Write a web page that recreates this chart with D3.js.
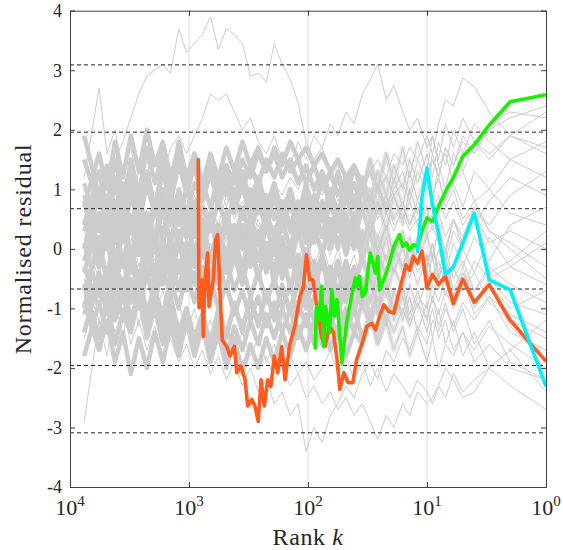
<!DOCTYPE html>
<html>
<head>
<meta charset="utf-8">
<script src="https://cdn.jsdelivr.net/npm/d3@7"></script>
<style>
  body { margin: 0; background: #fff; }
  text { font-family: "Liberation Serif", "DejaVu Serif", serif; fill: #262626; }
</style>
</head>
<body>
<div id="chart"></div>
<script>
// ranks shared by the grey runs (left to right)
var grayRanks = [7600,5700,4890,4190,3590,3080,2640,2260,1940,1660,1430,1220,1050,
                 900,770,660,566,485,416,356,305,262,224,192,165,141,
                 121,104,89,76,65,56,48,41,35,30,26,22,19,
                 16,14,12,10,9,8,7,6,5,4,3,2,1];

// grey background runs, one row per run (first nine are the outlying ones)
var grayRuns = [
  [0.6,1.2,0.9,1.5,1.8,2.2,2.6,2.9,3.0,3.1,2.95,3.7,3.3, 3.45,3.6,3.9,3.35,3.7,3.6,3.45,2.9,2.95,2.8,3.45,3.1,2.85, 2.45,1.8,1.5,1.7,1.2,1.4,0.9,1.1,0.7,0.9,0.5,0.8,0.4, 0.6,0.3,0.5,0.2,0.4,0.1,-0.2,0.3,0.0,-0.4,0.2,-0.3,0.1],
  [-0.3,0.4,0.9,0.5,1.1,0.8,1.3,1.0,1.5,1.2,1.7,1.9,1.6, 1.9,2.2,2.6,2.5,2.6,2.3,2.0,2.2,1.8,1.6,1.9,1.5,1.3, 1.1,1.4,0.9,1.2,0.8,1.0,0.6,0.9,1.2,0.8,1.1,0.7,1.0, 1.3,0.9,1.5,1.1,1.6,1.2,1.7,1.4,1.9,1.6,2.1,2.3,2.2],
  [0.2,-0.5,0.3,-0.2,0.5,0.1,0.7,0.3,0.8,0.5,1.0,0.6,0.9, 0.4,0.8,0.5,1.1,0.7,1.2,0.9,1.3,1.0,1.5,1.2,1.6,1.4, 1.8,1.5,1.9,1.7,2.1,1.9,2.3,2.1,2.6,2.84,3.1,2.5,2.75, 2.3,2.0,2.2,1.7,1.9,1.4,1.6,1.1,1.3,0.8,1.0,0.6,0.4],
  [-0.8,0.1,-0.4,0.4,-0.1,0.3,-0.3,0.2,-0.2,0.4,0.0,0.5,0.1, 0.6,0.2,0.7,0.4,0.9,0.5,0.8,0.6,1.0,0.7,1.1,0.9,1.2, 1.0,1.3,1.1,0.9,1.2,0.8,1.1,1.4,1.0,1.3,1.5,1.2,1.6, 1.4,1.7,1.5,1.9,1.6,2.1,2.5,2.4,2.87,2.72,2.3,1.9,1.7],
  [-0.5,-1.2,-0.8,-1.4,-1.0,-1.6,-1.2,-1.7,-1.3,-1.8,-1.5,-1.9,-1.6, -2.0,-1.7,-2.1,-1.8,-2.2,-1.9,-2.3,-2.0,-2.4,-2.2,-2.6,-2.4,-2.8, -2.6,-3.4,-3.0,-3.25,-2.8,-2.6,-2.3,-2.5,-2.1,-1.9,-2.2,-1.7,-1.9, -1.5,-1.7,-1.3,-1.6,-1.2,-1.4,-1.0,-1.3,-0.9,-1.2,-0.8,-1.1,-1.4],
  [0.3,-0.4,0.1,-0.6,-0.2,-0.8,-0.4,-1.0,-0.7,-1.2,-0.9,-1.3,-1.1, -1.5,-1.2,-1.6,-1.4,-1.8,-1.5,-1.9,-1.7,-2.0,-1.8,-2.2,-2.0,-2.3, -2.1,-2.5,-2.3,-2.6,-2.4,-2.7,-2.5,-2.8,-2.6,-2.9,-3.2,-2.8,-3.0, -2.6,-2.8,-2.4,-2.6,-2.5,-2.3,-2.5,-2.1,-2.4,-2.2,-2.0,-2.3,-2.7],
  [-1.5,-0.6,-1.1,-0.4,-0.9,-0.3,-0.8,-0.5,-1.1,-0.7,-1.2,-0.9,-1.4, -1.0,-1.5,-1.2,-1.6,-1.3,-1.7,-1.4,-1.8,-1.5,-1.9,-1.6,-2.0,-1.8, -2.1,-1.9,-2.2,-2.0,-1.7,-2.1,-1.8,-2.2,-1.9,-2.3,-2.0,-2.4,-2.1, -2.3,-2.5,-2.2,-2.4,-2.6,-2.3,-2.0,-2.2,-2.5,-2.4,-2.0,-1.7,-1.2],
  [-2.9,-1.2,-1.8,-0.9,-1.5,-0.7,-1.3,-0.5,-1.0,-0.3,-0.8,-0.2,-0.6, -0.1,-0.5,0.1,-0.3,0.2,-0.2,0.3,0.0,0.4,0.1,-0.2,0.3,0.0, 0.4,0.1,0.5,0.2,-0.1,0.3,0.0,0.4,0.1,0.5,0.2,0.6,0.3, 0.7,0.4,0.8,0.5,0.9,1.2,0.8,1.1,0.7,1.3,1.0,1.5,1.8],
  [1.2,2.7,1.6,2.0,1.3,1.7,1.0,1.5,0.8,1.2,0.6,1.0,0.5, 0.9,0.4,0.8,0.3,0.7,0.2,0.6,0.1,0.5,0.0,0.4,-0.1,0.3, -0.2,0.2,-0.3,0.1,-0.4,0.0,-0.5,-0.1,-0.6,-0.2,-0.5,-0.1,-0.4, 0.0,-0.3,0.2,-0.2,0.1,-0.5,-0.2,-0.8,-0.4,-1.0,-0.6,-1.3,-1.9],
  [0.8,-0.2,0.5,-0.4,0.3,-0.3,0.6,0.0,0.7,0.2,0.9,0.4,1.0, 0.6,1.1,0.7,1.2,0.9,1.3,1.0,1.4,1.1,1.5,1.2,1.6,1.3, 1.5,1.1,1.4,1.0,1.3,0.9,1.2,0.8,1.1,0.7,1.0,0.6,0.9, 0.5,0.8,0.4,0.7,0.3,0.6,0.2,0.5,0.1,0.4,0.8,1.2,0.9],
  [-0.2,0.6,0.1,0.8,0.3,1.0,0.5,1.1,0.6,0.9,0.4,0.8,0.3, 0.7,0.2,0.6,0.1,0.5,0.0,0.4,-0.1,0.3,-0.2,0.2,-0.3,0.1, -0.4,0.0,-0.5,-0.1,-0.6,-0.2,-0.7,-0.3,-0.8,-0.4,-0.9,-0.5,-1.0, -0.6,-1.1,-0.7,-1.2,-0.8,-1.3,-0.9,-1.4,-1.0,-1.6,-1.2,-1.9,-2.2],
  [1.5,0.7,1.2,0.4,1.0,0.3,0.9,0.2,0.8,0.1,0.7,0.0,0.6, -0.1,0.5,-0.2,0.4,-0.3,0.3,-0.4,0.2,-0.5,0.1,-0.6,0.0,-0.7, -0.1,-0.8,-0.2,-0.9,-0.3,-1.0,-0.4,-1.1,-0.5,-1.2,-0.6,-1.3,-0.7, -1.2,-0.8,-1.4,-0.9,-1.5,-1.0,-1.6,-1.2,-1.8,-1.4,-2.0,-1.7,-2.4],
  [-1.0,0.2,-0.6,0.4,-0.3,0.5,-0.1,0.6,0.2,0.8,0.4,1.0,0.6, 1.1,0.8,1.3,1.0,1.4,1.1,1.5,1.2,1.6,1.3,1.7,1.4,1.8, 1.5,1.7,1.4,1.6,1.3,1.5,1.2,1.4,1.1,1.3,1.0,1.2,0.9, 1.1,0.8,1.3,1.0,1.5,1.2,1.7,1.4,1.8,1.6,2.0,2.2,2.4],
  [0.4,1.3,0.7,1.5,0.9,1.4,0.8,1.2,0.6,1.0,0.4,0.9,0.3, 0.8,0.2,0.6,0.0,0.5,-0.1,0.4,-0.2,0.2,-0.3,0.1,-0.4,0.0, -0.5,-0.1,-0.6,-0.2,-0.7,-0.3,-0.8,-0.4,-0.9,-0.5,-1.0,-0.6,-1.1, -0.7,-1.2,-0.8,-1.0,-0.6,-0.9,-0.5,-0.8,-0.4,-0.7,-0.3,-0.6,-0.9],
  [-0.6,-1.5,-0.9,-1.6,-1.1,-1.4,-0.8,-1.3,-0.7,-1.1,-0.5,-1.0,-0.4, -0.9,-0.3,-0.8,-0.2,-0.7,-0.1,-0.6,0.0,-0.5,0.1,-0.4,0.2,-0.3, 0.3,-0.2,0.4,-0.1,0.5,0.0,0.6,0.1,0.7,0.2,0.8,0.3,0.9, 0.4,1.0,0.6,1.2,0.8,1.4,1.0,1.6,1.3,1.8,1.5,1.9,1.6],
  [0.0,0.9,0.4,1.2,0.6,1.5,0.9,1.7,1.1,1.6,1.0,1.8,1.2, 1.6,1.1,1.5,1.0,1.4,0.9,1.3,0.8,1.2,0.7,1.1,0.6,1.0, 0.5,0.9,0.4,0.8,0.3,0.7,0.2,0.6,0.1,0.5,0.0,0.4,-0.1, 0.3,-0.2,0.2,-0.3,0.1,-0.4,0.0,-0.5,-0.2,-0.7,-0.4,-0.2,0.3],
  [-1.8,-0.9,-1.4,-0.6,-1.2,-0.5,-1.0,-0.4,-0.9,-0.3,-0.8,-0.2,-0.7, -0.4,-0.9,-0.5,-1.0,-0.6,-1.1,-0.7,-1.2,-0.8,-1.3,-0.9,-1.4,-1.0, -1.5,-1.1,-1.6,-1.2,-1.7,-1.3,-1.8,-1.4,-1.6,-1.2,-1.5,-1.1,-1.4, -1.0,-1.3,-0.9,-1.2,-0.8,-1.1,-0.7,-1.0,-0.6,-0.9,-0.5,-0.3,-0.6],
  [0.9,0.0,0.6,-0.2,0.4,-0.4,0.2,-0.5,0.1,-0.6,0.0,-0.7,-0.1, -0.6,0.0,-0.5,0.1,-0.4,0.2,-0.3,0.3,-0.2,0.4,-0.1,0.5,0.0, 0.6,0.1,0.7,0.2,0.8,0.3,0.9,0.4,1.0,0.5,1.1,0.6,1.2, 0.7,1.3,0.8,1.4,0.9,1.2,0.7,1.0,0.5,0.8,0.3,0.0,-0.5],
  [0.5,-0.3,0.2,-0.6,-0.1,-0.9,-0.4,-1.1,-0.6,-1.3,-0.8,-1.4,-1.0, -1.5,-1.1,-1.6,-1.2,-1.4,-1.0,-1.3,-0.9,-1.2,-0.8,-1.1,-0.7,-1.0, -0.6,-0.9,-0.5,-0.8,-0.4,-0.7,-0.3,-0.6,-0.2,-0.5,-0.1,-0.4,0.0, -0.3,0.1,-0.2,0.2,-0.1,0.3,0.0,0.5,0.2,0.7,0.4,0.9,1.3],
  [-0.4,0.5,0.0,0.7,0.2,0.9,0.4,1.1,0.6,1.3,0.8,1.4,1.0, 1.5,1.1,1.6,1.2,1.7,1.3,1.8,1.4,1.7,1.3,1.6,1.2,1.5, 1.1,1.4,1.0,1.3,0.9,1.2,0.8,1.1,0.7,1.0,0.6,0.9,0.5, 0.8,0.4,0.7,0.3,0.6,0.9,0.5,0.8,0.4,0.7,0.3,0.1,-0.3],
  [-1.1,-0.4,-0.9,-0.2,-0.7,0.0,-0.5,0.1,-0.4,0.2,-0.3,0.3,-0.2, 0.4,-0.1,0.5,0.0,0.6,0.1,0.7,0.2,0.8,0.3,0.9,0.4,1.0, 0.5,1.1,0.6,1.2,0.7,1.3,0.8,1.4,0.9,1.5,1.0,1.6,1.1, 1.7,1.2,1.8,1.3,1.9,1.5,2.1,1.7,2.2,1.8,1.6,1.9,2.3],
  [0.1,-0.8,-0.3,-1.0,-0.5,-1.2,-0.7,-1.3,-0.8,-1.4,-0.9,-1.5,-1.0, -1.6,-1.1,-1.7,-1.2,-1.8,-1.3,-1.7,-1.2,-1.6,-1.1,-1.5,-1.0,-1.4, -0.9,-1.3,-0.8,-1.2,-0.7,-1.1,-0.6,-1.0,-0.5,-0.9,-0.4,-0.8,-0.3, -0.7,-0.2,-0.6,-0.1,-0.5,0.0,-0.4,0.1,-0.3,0.2,-0.2,0.4,0.7],
  [1.9,0.9,1.4,0.6,1.1,0.4,0.9,0.3,0.8,0.2,0.7,0.1,0.6, 0.2,0.7,0.3,0.8,0.4,0.9,0.5,1.0,0.6,0.9,0.5,0.8,0.4, 0.7,0.3,0.6,0.2,0.5,0.1,0.4,0.0,0.3,-0.1,0.2,-0.2,0.1, -0.3,0.0,-0.4,-0.1,-0.5,-0.2,-0.6,-0.3,-0.7,-0.4,-0.9,-1.2,-1.5],
  [-0.9,-1.7,-1.2,-1.9,-1.4,-2.1,-1.5,-2.0,-1.4,-1.9,-1.3,-1.8,-1.2, -1.7,-1.1,-1.6,-1.0,-1.5,-0.9,-1.4,-0.8,-1.3,-0.7,-1.2,-0.6,-1.1, -0.5,-1.0,-0.4,-0.9,-0.3,-0.8,-0.2,-0.7,-0.1,-0.6,0.0,-0.5,0.1, -0.4,0.2,-0.3,0.3,-0.2,0.4,-0.1,0.5,0.0,0.6,0.1,0.3,0.0],
  [0.7,1.6,1.0,1.8,1.2,1.9,1.3,2.0,1.4,1.8,1.2,1.7,1.1, 1.6,1.0,1.5,0.9,1.4,0.8,1.3,0.7,1.2,0.6,1.1,0.5,1.0, 0.4,0.9,0.3,0.8,0.2,0.7,0.1,0.6,0.0,0.5,-0.1,0.4,-0.2, 0.3,-0.3,0.2,-0.4,0.1,-0.5,-0.1,-0.7,-0.3,-0.9,-0.6,-1.0,-0.7],
  [-0.3,-1.0,-0.5,-1.2,-0.7,-1.3,-0.8,-1.5,-1.0,-1.6,-1.1,-1.7,-1.2, -1.8,-1.3,-1.9,-1.4,-2.0,-1.5,-2.1,-1.6,-2.0,-1.5,-1.9,-1.4,-1.8, -1.3,-1.7,-1.2,-1.6,-1.1,-1.5,-1.0,-1.4,-0.9,-1.3,-0.8,-1.2,-0.7, -1.1,-0.6,-1.0,-0.5,-0.9,-0.4,-0.8,-0.3,-0.7,-0.2,-0.5,-0.9,-1.1],
  [0.3,1.0,0.4,1.1,0.5,1.2,0.6,1.3,0.7,1.4,0.8,1.5,0.9, 1.4,0.8,1.3,0.7,1.2,0.6,1.1,0.5,1.0,0.4,0.9,0.3,0.8, 0.2,0.7,0.1,0.6,0.0,0.5,-0.1,0.4,-0.2,0.3,-0.3,0.2,-0.4, 0.1,-0.5,0.0,-0.6,-0.1,-0.7,-0.3,-0.9,-0.5,-1.1,-0.8,-1.4,-1.7],
  [-0.7,0.1,-0.5,0.3,-0.3,0.5,-0.1,0.6,0.0,0.7,0.1,0.8,0.2, 0.6,0.0,0.5,-0.1,0.4,-0.2,0.3,-0.3,0.2,-0.4,0.1,-0.5,0.0, -0.6,-0.1,-0.7,-0.2,-0.8,-0.3,-0.9,-0.4,-1.0,-0.5,-1.1,-0.6,-1.2, -0.8,-1.3,-0.9,-1.4,-1.0,-1.5,-1.2,-1.7,-1.4,-1.9,-1.6,-2.0,-2.2],
  [1.1,0.3,0.8,0.1,0.6,-0.1,0.4,-0.2,0.3,-0.3,0.2,-0.4,0.1, -0.3,0.2,-0.2,0.3,-0.1,0.4,0.0,0.5,0.1,0.6,0.2,0.7,0.3, 0.8,0.4,0.9,0.5,1.0,0.6,1.1,0.7,1.2,0.8,1.3,0.9,1.4, 1.0,1.5,1.1,1.6,1.2,1.8,1.4,2.0,1.6,2.1,1.8,1.5,1.2],
  [-1.4,-0.5,-1.1,-0.3,-0.9,-0.2,-0.7,-0.1,-0.6,0.0,-0.5,0.1,-0.4, 0.0,-0.5,-0.1,-0.6,-0.2,-0.7,-0.3,-0.8,-0.4,-0.9,-0.5,-1.0,-0.6, -1.1,-0.7,-1.2,-0.8,-1.3,-0.9,-1.4,-1.0,-1.5,-1.1,-1.6,-1.2,-1.7, -1.3,-1.8,-1.4,-1.9,-1.5,-2.0,-1.6,-1.8,-1.4,-1.7,-1.3,-1.6,-2.0]
];

// highlighted runs
var orangeRanks = [836,824,782,758,734,697,679,653,625,597,574,549,525,482,452,416,397,365,338,321,297,279,262,248,233,218,205,192,180,166,156,142,129,117,109,103,97,91,85,77,72,66,61,57,54,50,46,42,39,35,32,29,27,25,23,21,19,17,15,14,13,12,11,10,9,8,7,6,5,4,3,2,1];
var orangeVals  = [1.52,-0.99,-0.52,-1.47,-0.52,-0.07,-0.97,-0.74,-0.52,0.15,0.24,-0.74,-1.53,-1.64,-1.8,-1.64,-2.08,-1.97,-2.2,-2.64,-2.53,-2.64,-2.9,-2.2,-2.64,-2.2,-2.31,-1.8,-2.08,-1.64,-2.2,-1.6,-1.3,-0.8,-0.63,-0.1,-0.52,-0.52,-0.91,-1.47,-1.64,-1.3,-1.41,-1.86,-2.36,-2.08,-2.25,-2.25,-1.86,-1.58,-1.3,-1.25,-1.36,-1.13,-0.94,-1.05,-1.08,-0.69,-0.27,-0.36,-0.13,-0.24,-0.04,-0.66,-0.43,-0.6,-0.46,-0.92,-0.51,-0.9,-0.6,-1.2,-1.89];

var greenRanks = [87,85,80,77,74,71,66,63,60,57,52,47,43,40,39,37,35,33,30,27,26,25,22,20,19,17,16,15,14,13,12,11,10,9,8,7,6,5,4,3,2,1];
var greenVals  = [-1.69,-0.97,-1.19,-0.63,-1.64,-0.97,-1.41,-0.69,-1.13,-0.85,-1.92,-1.19,-0.8,-0.49,-0.63,-0.46,-0.8,-0.74,-0.07,-0.41,-0.13,-0.69,-0.41,-0.13,0.04,0.24,0.04,0.1,-0.02,0.07,0.04,0.3,0.52,0.46,0.71,0.96,1.2,1.55,1.75,2.08,2.47,2.59];

var cyanRanks = [12,11,10,9,8,7,6,5,4,3,2,1];
var cyanVals  = [-0.07,0.88,1.35,0.75,0.25,-0.43,-0.3,0.1,0.6,-0.52,-0.69,-2.31];

// reference levels (dashed)
var refLevels = [3.09,1.96,0.6745,-0.6745,-1.96,-3.09];

var xTicks = [1e4,1e3,1e2,1e1,1e0];
var yTicks = [-4,-3,-2,-1,0,1,2,3,4];

var W = 563, H = 550;
var plotL = 70, plotR = 546, plotT = 10.7, plotB = 487;

var svg = d3.select("#chart").append("svg")
    .attr("width", W).attr("height", H);

var x = d3.scaleLog().domain([1e4, 1]).range([plotL, plotR]);
var y = d3.scaleLinear().domain([-4, 4]).range([plotB, plotT]);

var line = d3.line()
    .x(function(d) { return x(d[0]); })
    .y(function(d) { return y(d[1]); });

// the long noisy stretch of the core runs reads as a dense band,
// fading out towards the low ranks where the runs are short
var defs = svg.append("defs");
var grad = defs.append("linearGradient").attr("id", "denseFade")
    .attr("gradientUnits", "userSpaceOnUse")
    .attr("x1", x(40)).attr("x2", x(9)).attr("y1", 0).attr("y2", 0);
grad.append("stop").attr("offset", 0).attr("stop-color", "#fff");
grad.append("stop").attr("offset", 1).attr("stop-color", "#000");
defs.append("mask").attr("id", "denseMask")
    .attr("maskUnits", "userSpaceOnUse")
    .attr("x", 0).attr("y", 0).attr("width", W).attr("height", H)
  .append("rect")
    .attr("x", 0).attr("y", 0).attr("width", W).attr("height", H)
    .attr("fill", "url(#denseFade)");

// vertical grid
svg.append("g").selectAll("line")
    .data(xTicks.slice(1, 4))
    .enter().append("line")
    .attr("x1", function(d) { return x(d); }).attr("x2", function(d) { return x(d); })
    .attr("y1", plotT).attr("y2", plotB)
    .attr("stroke", "#dcdcdc").attr("stroke-width", 1);

// grey runs: dense band part (core runs only)
svg.append("g").attr("mask", "url(#denseMask)")
  .selectAll("path")
    .data(grayRuns.slice(9))
    .enter().append("path")
    .attr("d", function(r) { return line(d3.zip(grayRanks, r)); })
    .attr("fill", "none")
    .attr("stroke", "#cccccc")
    .attr("stroke-width", 4.5)
    .attr("stroke-linejoin", "round");

// grey runs: thin lines
svg.append("g").selectAll("path")
    .data(grayRuns)
    .enter().append("path")
    .attr("d", function(r) { return line(d3.zip(grayRanks, r)); })
    .attr("fill", "none")
    .attr("stroke", "#cccccc")
    .attr("stroke-width", 1);

// dashed levels
svg.append("g").selectAll("line")
    .data(refLevels)
    .enter().append("line")
    .attr("x1", plotL).attr("x2", plotR)
    .attr("y1", function(d) { return y(d); }).attr("y2", function(d) { return y(d); })
    .attr("stroke", "#222").attr("stroke-width", 1)
    .attr("stroke-dasharray", "4,3");

// highlighted runs
var runs = [
  {ranks: orangeRanks, vals: orangeVals, color: "#ff5b1e"},
  {ranks: greenRanks, vals: greenVals, color: "#19f000"},
  {ranks: cyanRanks, vals: cyanVals, color: "#00f0f8"}
];
svg.append("g").selectAll("path")
    .data(runs)
    .enter().append("path")
    .attr("d", function(r) { return line(d3.zip(r.ranks, r.vals)); })
    .attr("fill", "none")
    .attr("stroke", function(r) { return r.color; })
    .attr("stroke-width", 3.6)
    .attr("stroke-linejoin", "round");

// axes (ticks inward)
var axisColor = "#404040";
svg.append("g").attr("transform", "translate(0," + plotB + ")")
    .call(d3.axisBottom(x).tickValues(xTicks).tickSize(-5).tickFormat(""));
svg.append("g").attr("transform", "translate(0," + plotT + ")")
    .call(d3.axisTop(x).tickValues(xTicks).tickSize(-5).tickFormat(""));
svg.append("g").attr("transform", "translate(" + plotL + ",0)")
    .call(d3.axisLeft(y).tickValues(yTicks).tickSize(-5).tickFormat(""));
svg.append("g").attr("transform", "translate(" + plotR + ",0)")
    .call(d3.axisRight(y).tickValues(yTicks).tickSize(-5).tickFormat(""));
svg.selectAll(".domain").attr("stroke", axisColor);
svg.selectAll(".tick line").attr("stroke", axisColor);

// y tick labels
svg.append("g").selectAll("text")
    .data(yTicks)
    .enter().append("text")
    .attr("x", plotL - 8)
    .attr("y", function(d) { return y(d); })
    .attr("dy", "0.35em")
    .attr("text-anchor", "end")
    .style("font-size", "18px")
    .text(function(d) { return d; });

// x tick labels 10^n
var xl = svg.append("g").selectAll("text")
    .data(xTicks)
    .enter().append("text")
    .attr("x", function(d) { return x(d); })
    .attr("y", 515)
    .attr("text-anchor", "middle")
    .style("font-size", "22px");
xl.append("tspan").text("10");
xl.append("tspan")
    .attr("dy", -9)
    .style("font-size", "15px")
    .text(function(d) { return Math.round(Math.log10(d)); });

// axis titles
var xt = svg.append("text")
    .attr("x", (plotL + plotR) / 2)
    .attr("y", 545)
    .attr("text-anchor", "middle")
    .style("font-size", "24px")
    .style("letter-spacing", "0.6px");
xt.append("tspan").text("Rank ");
xt.append("tspan").style("font-style", "italic").text("k");

svg.append("text")
    .attr("transform", "translate(31," + ((plotT + plotB) / 2) + ") rotate(-90)")
    .attr("text-anchor", "middle")
    .style("font-size", "24px")
    .style("letter-spacing", "0.9px")
    .text("Normalised residual");
</script>
</body>
</html>
